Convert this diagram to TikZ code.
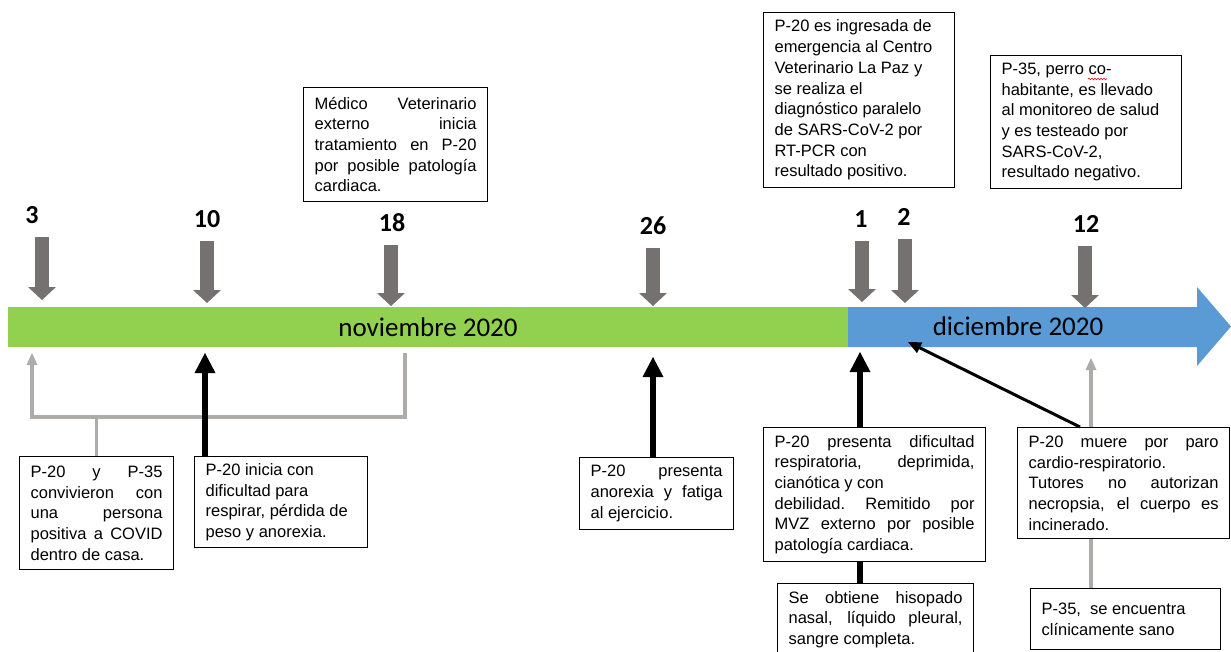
\documentclass[tikz,border=0pt]{standalone}
\usepackage{fontspec}
\setmainfont{Liberation Sans}
\newfontfamily\calibri{Carlito}
\usetikzlibrary{arrows.meta,decorations.pathmorphing}
\definecolor{verdebar}{HTML}{92D050}
\definecolor{azulbar}{HTML}{5B9BD5}
\definecolor{grisosc}{HTML}{767171}
\definecolor{grisclaro}{HTML}{AEABAB}
\newcommand{\justo}[1]{{\spaceskip=0.278em plus 1fil\xspaceskip=\spaceskip
  \makebox[\hsize][s]{#1}}}

\begin{document}
\begin{tikzpicture}[
    x=1pt, y=-1pt,
    caja/.style={draw, line width=1.2pt, anchor=north west, align=justify,
                 inner xsep=11pt, inner ysep=0pt, text width=#1,
                 font=\fontsize{16.5}{20.7}\selectfont},
    dia/.style={font=\calibri\bfseries\fontsize{26}{30}\selectfont, inner sep=0pt},
    mes/.style={font=\calibri\fontsize{27}{32}\selectfont, inner sep=0pt},
    baja/.style={draw=grisosc, line width=14pt, shorten <=13pt,
                 -{Triangle[length=13pt, width=28pt, line width=0pt]}},
    sube/.style={draw=black, line width=5.5pt,
                 -{Triangle[length=20pt, width=21pt, line width=0pt]}},
    subegris/.style={draw=grisclaro, line width=3.5pt,
                 -{Triangle[length=12pt, width=11pt, line width=0pt]}},
    diag/.style={draw=black, line width=3pt,
                 -{Triangle[length=13pt, width=12pt, line width=0pt]}}
  ]
  \path[use as bounding box] (0,0) rectangle (1231,651);
  \clip (0,0) rectangle (1231,651);

  %% ---- timeline ----
  \node[mes, fill=verdebar, minimum width=840pt, minimum height=40pt]
    (mes_nov) at (428,327) {noviembre 2020};
  \fill[azulbar] (848,307) -- (1197,307) -- (1197,287) -- (1231,326.5)
    -- (1197,366) -- (1197,347) -- (848,347) -- cycle;
  \node[mes] (mes_dic) at (1018,326.5) {diciembre 2020};

  %% ---- days ----
  \node[dia] (dia_03) at (32,215.5)  {3};
  \node[dia] (dia_10) at (207,219)   {10};
  \node[dia] (dia_18) at (392,222.5) {18};
  \node[dia] (dia_26) at (653,226)   {26};
  \node[dia] (dia_01) at (861,219)   {1};
  \node[dia] (dia_02) at (904,217)   {2};
  \node[dia] (dia_12) at (1086,224)  {12};

  \coordinate (baja_03) at (42,300);
  \coordinate (baja_10) at (207,303);
  \coordinate (baja_18) at (391,306);
  \coordinate (baja_26) at (653,306);
  \coordinate (baja_01) at (862,302);
  \coordinate (baja_02) at (905,303);
  \coordinate (baja_12) at (1085,308);

  \draw[baja] (baja_03 |- dia_03.south) -- (baja_03);
  \draw[baja] (baja_10 |- dia_10.south) -- (baja_10);
  \draw[baja] (baja_18 |- dia_18.south) -- (baja_18);
  \draw[baja] (baja_26 |- dia_26.south) -- (baja_26);
  \draw[baja] (baja_01 |- dia_01.south) -- (baja_01);
  \draw[baja] (baja_02 |- dia_02.south) -- (baja_02);
  \draw[baja] (baja_12 |- dia_12.south) -- (baja_12);

  %% ---- top boxes ----
  \node[caja=162pt, minimum height=114pt] (trat_p20) at (303,87)
    {\justo{Médico Veterinario}\\ \justo{externo inicia}\\
     \justo{tratamiento en P-20}\\ \justo{por posible patología}\\ cardiaca.};
  \node[caja=169pt, minimum height=175pt] (ingreso_p20) at (763,12)
    {P-20 es ingresada de\\ emergencia al Centro\\ Veterinario La Paz y\\
     se realiza el\\ diagnóstico paralelo\\ de SARS-CoV-2 por\\ RT-PCR con\\
     resultado positivo.};
  \node[caja=169pt, minimum height=133pt] (monit_p35) at (990,55)
    {P-35, perro co-\\ habitante, es llevado\\ al monitoreo de salud\\
     y es testeado por\\ SARS-CoV-2,\\ resultado negativo.};
  \draw[red, line width=0.6pt, decorate,
        decoration={snake, amplitude=0.8pt, segment length=3pt}]
    (1088,79) -- (1107,79);

  %% ---- bottom boxes ----
  \node[caja=132pt, minimum height=113pt] (conv_p20) at (19,456)
    {\justo{P-20 y P-35}\\ \justo{convivieron con}\\ \justo{una persona}\\
     \justo{positiva a COVID}\\ dentro de casa.};
  \node[caja=151pt, minimum height=91pt] (inicio_p20) at (194,456)
    {P-20 inicia con\\ dificultad para\\ respirar, pérdida de\\ peso y anorexia.};
  \node[caja=132pt, minimum height=72pt] (anor_p20) at (579,457)
    {\justo{P-20 presenta}\\ \justo{anorexia y fatiga}\\ al ejercicio.};
  \node[caja=200pt, minimum height=134pt] (dific_p20) at (763,427)
    {\justo{P-20 presenta dificultad}\\ \justo{respiratoria, deprimida,}\\
     cianótica y con\\ \justo{debilidad. Remitido por}\\
     \justo{MVZ externo por posible}\\ patología cardiaca.};
  \node[caja=174pt, minimum height=72pt] (muestra_p20) at (777,583)
    {\justo{Se obtiene hisopado}\\ \justo{nasal, líquido pleural,}\\ sangre completa.};
  \node[caja=190pt, minimum height=111pt] (muerte_p20) at (1017,427)
    {\justo{P-20 muere por paro}\\ cardio-respiratorio.\\
     \justo{Tutores no autorizan}\\ \justo{necropsia, el cuerpo es}\\ incinerado.};
  \node[caja=168pt, minimum height=61pt] (sano_p35) at (1030,588)
    {P-35,\ \ se encuentra\\ clínicamente sano};

  %% ---- connectors to the timeline ----
  \coordinate (gris_03) at (32,353);
  \coordinate (gris_18) at (405,353);
  \coordinate (brk)     at (97,417);
  \coordinate (sube_10) at (205,353);
  \coordinate (sube_26) at (653,357);
  \coordinate (sube_01) at (860,352);
  \coordinate (tip_02)  at (908,342);
  \coordinate (gris_12) at (1091,358);

  \draw[subegris, {Triangle[length=12pt, width=11pt, line width=0pt]}-]
    (gris_03) -- (gris_03 |- brk) -- (gris_18 |- brk) -- (gris_18);
  \draw[draw=grisclaro, line width=3.5pt] (conv_p20.north) -- (conv_p20.north |- brk);

  \draw[sube] (sube_10 |- inicio_p20.north) -- (sube_10);
  \draw[sube] (sube_26 |- anor_p20.north)   -- (sube_26);
  \draw[sube] (sube_01 |- dific_p20.north)  -- (sube_01);
  \draw[draw=black, line width=5.5pt] (sube_01 |- dific_p20.south) -- (sube_01 |- muestra_p20.north);

  \draw[diag] ([xshift=63pt]muerte_p20.north west) -- (tip_02);
  \draw[subegris] (gris_12 |- muerte_p20.north) -- (gris_12);
  \draw[draw=grisclaro, line width=3.5pt] (gris_12 |- muerte_p20.south) -- (gris_12 |- sano_p35.north);

\end{tikzpicture}
\end{document}
